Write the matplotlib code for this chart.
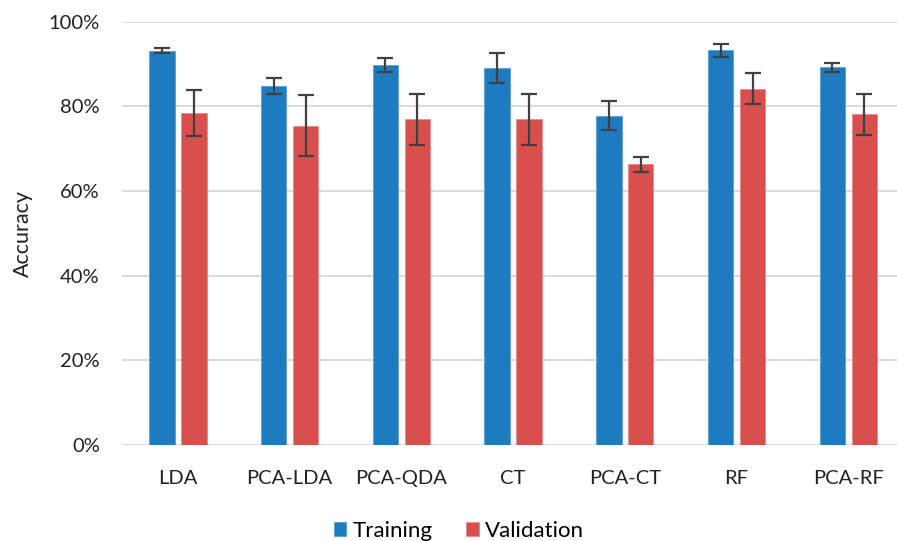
import matplotlib
matplotlib.use('Agg')
import matplotlib.pyplot as plt
import numpy as np
from matplotlib.ticker import FuncFormatter

# accuracy values (%)
models = ['LDA', 'PCA-LDA', 'PCA-QDA', 'CT', 'PCA-CT', 'RF', 'PCA-RF']
train_acc = [93.1, 84.8, 89.8, 89.1, 77.8, 93.2, 89.2]
train_err = [0.6, 2.0, 1.6, 3.5, 3.5, 1.6, 1.0]
val_acc = [78.4, 75.4, 76.9, 76.9, 66.3, 84.2, 78.1]
val_err = [5.4, 7.2, 6.0, 6.0, 1.8, 3.6, 4.9]

plt.rcParams['font.family'] = ['Lato', 'DejaVu Sans']

fig = plt.figure(figsize=(8.97, 5.41), dpi=100)
ax = fig.add_axes([0.136, 0.1775, 0.872, 0.7825])

x = np.arange(len(models))
w = 0.227
off = 0.143
err_kw = dict(ecolor='#404040', elinewidth=1.6, capsize=5.5, capthick=1.6)

ax.bar(x - off, train_acc, w, yerr=train_err, color='#1f7bbf',
       edgecolor='#5aa0d6', linewidth=0.6, label='Training', error_kw=err_kw, zorder=3)
ax.bar(x + off, val_acc, w, yerr=val_err, color='#d94f4e',
       edgecolor='#e98a88', linewidth=0.6, label='Validation', error_kw=err_kw, zorder=3)

ax.set_xlim(-0.5, len(models) - 0.5)
ax.set_ylim(0, 100)
ax.set_yticks(range(0, 101, 20))
ax.yaxis.set_major_formatter(FuncFormatter(lambda v, p: f'{v:.0f}%'))
ax.set_xticks(x)
ax.set_xticklabels(models)
ax.tick_params(axis='both', length=0, labelsize=14.5, colors='#222222')
ax.tick_params(axis='y', pad=16)
ax.tick_params(axis='x', pad=18)
ax.grid(axis='y', color='#d4d4d4', linewidth=1.2, zorder=0)
for s in ax.spines.values():
    s.set_visible(False)

ax.set_ylabel('Accuracy', fontsize=15.5, color='#222222', labelpad=11)

fig.legend(loc='center', bbox_to_anchor=(0.512, 0.019), ncol=2, frameon=False,
           fontsize=16, handlelength=0.55, handleheight=0.55, handletextpad=0.3,
           columnspacing=1.5)

plt.savefig('out.png', dpi=100)
plt.close()
